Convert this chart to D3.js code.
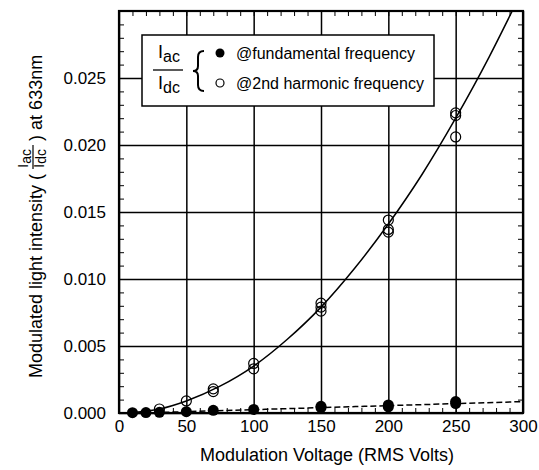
<!DOCTYPE html>
<html>
<head>
<meta charset="utf-8">
<script src="https://cdn.jsdelivr.net/npm/d3@7"></script>
<style>
  body { margin: 0; background: #fff; }
  text { font-family: "Liberation Sans", Arial, sans-serif; fill: #000; }
</style>
</head>
<body>
<div id="chart"></div>
<script>
// data
var xTicks = [0, 50, 100, 150, 200, 250, 300];
var yTicks = [0, 0.005, 0.010, 0.015, 0.020, 0.025];

// @2nd harmonic (open circles)
var harmX = [30, 50, 70, 70, 100, 100, 150, 150, 150, 200, 200, 200, 250, 250, 250];
var harmY = [0.0003, 0.0009, 0.0016, 0.0018, 0.0033, 0.0037, 0.0076, 0.0079, 0.0082, 0.0135, 0.0137, 0.0144, 0.0206, 0.0222, 0.0224];

// @fundamental (filled circles)
var fundX = [10, 20, 30, 50, 70, 100, 150, 150, 200, 200, 250, 250];
var fundY = [0.00002, 0.00003, 0.00005, 0.0001, 0.0002, 0.00027, 0.0004, 0.0005, 0.00045, 0.0006, 0.0007, 0.00085];

// solid fit curve through harmonic points
var fitX = [10, 30, 50, 75, 100, 125, 150, 175, 200, 225, 250, 275, 292];
var fitY = [0.00004, 0.0003, 0.0009, 0.002, 0.0035, 0.0055, 0.0079, 0.0108, 0.0141, 0.0178, 0.022, 0.0266, 0.030];

// dashed fit curve through fundamental points
var dashX = [33, 50, 100, 150, 200, 250, 300];
var dashY = [0.00005, 0.0001, 0.00025, 0.0004, 0.00055, 0.0007, 0.00085];

var margin = { top: 11, right: 16, bottom: 57, left: 119 },
    width = 539 - margin.left - margin.right,
    height = 470 - margin.top - margin.bottom;

var svg = d3.select("#chart").append("svg")
    .attr("width", 539).attr("height", 470);
var g = svg.append("g").attr("transform", "translate(" + margin.left + "," + margin.top + ")");

var xScale = d3.scaleLinear().domain([0, 300]).range([0, width]);
var yScale = d3.scaleLinear().domain([0, 0.03]).range([height, 0]);

// grid + labels
var xAxis = g.append("g").attr("transform", "translate(0," + height + ")")
    .call(d3.axisBottom(xScale).tickValues(xTicks).tickSize(-height).tickPadding(7));
var yAxis = g.append("g")
    .call(d3.axisLeft(yScale).tickValues(yTicks).tickSize(-width).tickPadding(13).tickFormat(d3.format(".3f")));
[xAxis, yAxis].forEach(function (a) {
    a.select(".domain").remove();
    a.selectAll("line").attr("stroke", "#000").attr("stroke-width", 1.5);
    a.selectAll("text").style("font-size", "17px").attr("font-family", null);
});

// minor ticks, inward on all sides
var minorX = d3.range(0, 301, 10), minorY = d3.range(0, 0.0301, 0.001);
g.append("g").attr("transform", "translate(0," + height + ")")
    .call(d3.axisTop(xScale).tickValues(minorX).tickSize(5).tickFormat(""));
g.append("g")
    .call(d3.axisBottom(xScale).tickValues(minorX).tickSize(5).tickFormat(""));
g.append("g")
    .call(d3.axisRight(yScale).tickValues(minorY).tickSize(5).tickFormat(""));
g.append("g").attr("transform", "translate(" + width + ",0)")
    .call(d3.axisLeft(yScale).tickValues(minorY).tickSize(5).tickFormat(""));
g.selectAll(".domain").remove();
g.selectAll(".tick line").attr("stroke", "#000");

// curves
var fitLine = d3.line().x(d => xScale(d[0])).y(d => yScale(d[1])).curve(d3.curveMonotoneX);
g.append("path").datum(d3.zip(fitX, fitY)).attr("d", fitLine)
    .attr("fill", "none").attr("stroke", "#000").attr("stroke-width", 1.5);
g.append("path").datum(d3.zip(dashX, dashY)).attr("d", fitLine)
    .attr("fill", "none").attr("stroke", "#000").attr("stroke-width", 1.5)
    .attr("stroke-dasharray", "6,3");

// points
g.selectAll(".harm").data(d3.zip(harmX, harmY)).enter().append("circle")
    .attr("cx", d => xScale(d[0])).attr("cy", d => yScale(d[1])).attr("r", 5)
    .attr("fill", "none").attr("stroke", "#000").attr("stroke-width", 1.2);
g.selectAll(".fund").data(d3.zip(fundX, fundY)).enter().append("circle")
    .attr("cx", d => xScale(d[0])).attr("cy", d => yScale(d[1])).attr("r", 5.5)
    .attr("fill", "#000");

// frame
g.append("rect").attr("width", width).attr("height", height)
    .attr("fill", "none").attr("stroke", "#000").attr("stroke-width", 2.2);

// legend
var lg = svg.append("g");
lg.append("rect").attr("x", 142).attr("y", 35).attr("width", 292).attr("height", 71)
    .attr("fill", "#fff").attr("stroke", "#000").attr("stroke-width", 1.5);
function frac(parent, x, yNum, yLine, yDen, lineW, big, small, shift) {
    var t1 = parent.append("text").attr("x", x).attr("y", yNum).style("font-size", big + "px");
    t1.append("tspan").text("I");
    t1.append("tspan").attr("dy", shift).style("font-size", small + "px").text("ac");
    parent.append("line").attr("x1", x - 5).attr("x2", x - 5 + lineW)
        .attr("y1", yLine).attr("y2", yLine).attr("stroke", "#000").attr("stroke-width", 1.3);
    var t2 = parent.append("text").attr("x", x).attr("y", yDen).style("font-size", big + "px");
    t2.append("tspan").text("I");
    t2.append("tspan").attr("dy", shift).style("font-size", small + "px").text("dc");
}
frac(lg, 158, 58, 70, 89, 30, 18, 16, 4);
lg.append("path")
    .attr("d", "M204,51 Q198,51 198,57 L198,66 Q198,71 193,71 Q198,71 198,76 L198,85 Q198,91 204,91")
    .attr("fill", "none").attr("stroke", "#000").attr("stroke-width", 2);
lg.append("circle").attr("cx", 220).attr("cy", 53).attr("r", 4.5).attr("fill", "#000");
lg.append("circle").attr("cx", 220).attr("cy", 83).attr("r", 4).attr("fill", "none").attr("stroke", "#000").attr("stroke-width", 1.2);
lg.append("text").attr("x", 236).attr("y", 59).style("font-size", "16px").text("@fundamental frequency");
lg.append("text").attr("x", 236).attr("y", 89).style("font-size", "16px").text("@2nd harmonic frequency");

// x title
svg.append("text").attr("x", margin.left + width / 2 + 6).attr("y", 461)
    .attr("text-anchor", "middle").style("font-size", "18px")
    .text("Modulation Voltage (RMS Volts)");

// y title, rotated, with fraction
var yt = svg.append("g").attr("transform", "translate(42,378) rotate(-90)");
var p1 = yt.append("text").attr("x", 0).attr("y", 0).style("font-size", "18px")
    .text("Modulated light intensity (");
var l1 = p1.node().getComputedTextLength();
var fg = yt.append("g").attr("transform", "translate(" + (l1 + 5) + ",0)");
var n = fg.append("text").attr("x", 1).attr("y", -14).style("font-size", "15px");
n.append("tspan").text("I");
n.append("tspan").attr("dy", 3).style("font-size", "14px").text("ac");
fg.append("line").attr("x1", 0).attr("x2", 24).attr("y1", -9).attr("y2", -9)
    .attr("stroke", "#000").attr("stroke-width", 1.2);
var dn = fg.append("text").attr("x", 1).attr("y", 2).style("font-size", "15px");
dn.append("tspan").text("I");
dn.append("tspan").attr("dy", 2).style("font-size", "14px").text("dc");
yt.append("text").attr("x", l1 + 33).attr("y", 0).style("font-size", "18px")
    .text(") at 633nm");
</script>
</body>
</html>
